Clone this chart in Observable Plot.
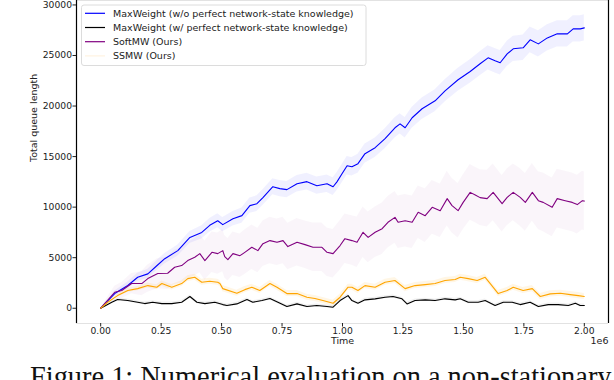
<!DOCTYPE html>
<html><head><meta charset="utf-8">
<script src="https://cdn.jsdelivr.net/npm/d3@7"></script>
<script src="https://cdn.jsdelivr.net/npm/@observablehq/plot@0.6"></script>
<style>
html,body{margin:0;padding:0;background:#fff;width:614px;height:380px;overflow:hidden;position:relative}
#chart svg{display:block}
#caption{position:absolute;left:30px;top:363px;font-family:"Liberation Serif",serif;font-size:25px;line-height:25px;white-space:nowrap;color:#111}
</style></head><body>
<div id="chart"></div>
<div id="caption">Figure 1: Numerical evaluation on a non-stationary</div>
<script>
// Time in units of 1e6; each entry: [time, mean queue length, band half-width]
const maxWeightNoKnowledge = [
[0,0,0],[0.058,1450,250],[0.112,2250,350],[0.153,3060,400],[0.195,3400,450],[0.232,4200,500],[0.265,4900,520],
[0.319,5700,550],[0.369,7000,600],[0.418,7500,650],[0.451,8200,680],[0.484,8650,700],[0.505,8270,700],
[0.547,8860,720],[0.584,9160,750],[0.617,10150,760],[0.646,10340,780],[0.671,10940,790],[0.712,12020,800],
[0.741,11830,800],[0.770,11730,800],[0.812,12320,820],[0.853,12520,830],[0.894,12120,850],[0.936,12320,870],
[0.961,12020,880],[0.977,12500,890],[0.998,13300,900],[1.019,14100,910],[1.039,14000,920],[1.064,14300,940],
[1.093,15290,950],[1.135,15880,970],[1.176,16770,990],[1.217,17850,1000],[1.238,18240,1010],[1.259,17850,1020],
[1.288,18840,1040],[1.329,19730,1060],[1.383,20520,1090],[1.424,21500,1110],[1.478,22600,1140],[1.528,23420,1160],
[1.569,24180,1180],[1.602,24770,1200],[1.631,24470,1210],[1.652,24280,1220],[1.681,25160,1240],[1.706,25660,1250],
[1.747,25760,1260],[1.776,26550,1280],[1.810,26150,1290],[1.847,26740,1300],[1.888,27140,1300],[1.930,27140,1300],
[1.954,27630,1300],[1.983,27630,1300],[2.000,27730,1300]
];
const maxWeightKnowledge = [
[0,0,0],[0.046,590,100],[0.070,860,130],[0.112,760,150],[0.153,590,150],[0.182,460,150],[0.215,590,150],
[0.253,460,150],[0.294,460,150],[0.335,590,150],[0.369,1160,160],[0.398,590,150],[0.431,460,150],[0.472,590,150],
[0.505,360,150],[0.522,270,150],[0.563,430,150],[0.605,860,150],[0.629,590,150],[0.667,760,150],[0.700,960,160],
[0.733,590,150],[0.770,170,150],[0.812,430,150],[0.853,170,150],[0.894,270,150],[0.936,170,150],[0.961,100,150],
[0.990,760,150],[1.023,1250,160],[1.039,760,150],[1.064,490,150],[1.093,830,150],[1.135,930,150],[1.176,1090,150],
[1.209,1160,160],[1.246,930,150],[1.267,430,150],[1.300,760,150],[1.342,830,150],[1.383,760,150],[1.424,930,150],
[1.466,830,150],[1.487,930,150],[1.520,590,150],[1.561,590,150],[1.590,760,150],[1.631,270,150],[1.665,590,150],
[1.702,590,150],[1.735,360,150],[1.776,590,150],[1.810,170,150],[1.851,360,150],[1.892,360,150],[1.934,270,150],
[1.963,490,150],[1.983,270,150],[2.000,270,150]
];
const softMW = [
[0,0,0],[0.058,1580,600],[0.087,1750,800],[0.128,2440,1000],[0.170,2440,1200],[0.195,2930,1350],[0.236,3430,1500],
[0.277,3460,1600],[0.306,4050,1700],[0.335,4220,1750],[0.360,4710,1800],[0.389,5040,1850],[0.410,5400,1900],
[0.431,4710,1950],[0.460,5530,2000],[0.484,5400,2050],[0.505,5700,2100],[0.513,5100,2100],[0.526,4800,2100],
[0.547,5400,2150],[0.576,5200,2150],[0.596,5530,2200],[0.625,6030,2200],[0.650,5700,2200],[0.671,6390,2250],
[0.700,6690,2300],[0.729,6520,2300],[0.754,6690,2300],[0.774,6100,2300],[0.812,6520,2350],[0.845,6290,2350],
[0.878,6030,2400],[0.915,6030,2400],[0.936,5530,2400],[0.961,5400,2400],[0.990,6200,2450],[1.010,6880,2450],
[1.039,6690,2450],[1.060,6520,2500],[1.085,7510,2500],[1.106,7010,2500],[1.135,7510,2500],[1.164,7870,2550],
[1.188,8500,2550],[1.217,8990,2550],[1.230,8500,2600],[1.259,8660,2600],[1.288,8500,2600],[1.313,9490,2600],
[1.342,9160,2650],[1.371,9980,2650],[1.404,9650,2650],[1.433,10840,2700],[1.453,10150,2700],[1.478,9650,2700],
[1.499,10470,2700],[1.528,11460,2750],[1.549,11200,2750],[1.569,10940,2750],[1.598,10840,2800],[1.623,11460,2800],
[1.660,10340,2800],[1.681,10970,2800],[1.706,11460,2800],[1.735,10970,2850],[1.756,10470,2850],[1.785,11460,2850],
[1.810,10640,2850],[1.830,10470,2900],[1.867,9980,2900],[1.888,10840,2900],[1.921,10640,2900],[1.950,10470,2900],
[1.971,10250,2900],[1.992,10640,2900],[2.000,10600,2900]
];
const ssMW = [
[0,0,0],[0.029,590,80],[0.070,1250,150],[0.112,1750,200],[0.153,1940,220],[0.195,2240,250],[0.232,2080,250],
[0.253,2440,260],[0.294,2080,270],[0.335,2440,280],[0.360,2930,290],[0.389,3060,300],[0.418,2570,300],
[0.451,2670,300],[0.484,2570,300],[0.493,2440,300],[0.505,1940,300],[0.563,1480,300],[0.596,1840,300],
[0.625,2080,300],[0.658,1750,300],[0.700,2440,300],[0.729,2080,300],[0.770,1450,300],[0.812,1450,300],
[0.853,1090,300],[0.886,960,300],[0.919,760,300],[0.961,490,300],[0.990,1090,300],[1.023,2080,300],
[1.039,2080,300],[1.064,1750,300],[1.093,2240,300],[1.135,2080,300],[1.176,2570,300],[1.217,2740,300],
[1.259,1940,300],[1.300,2240,300],[1.342,2340,300],[1.383,2440,300],[1.424,2740,300],[1.466,2840,300],
[1.487,3060,300],[1.520,2930,300],[1.557,2740,300],[1.590,3060,300],[1.611,2440,300],[1.644,1450,300],
[1.681,1750,300],[1.706,2080,300],[1.747,1750,300],[1.785,1940,300],[1.818,1160,300],[1.859,1420,300],
[1.901,1480,300],[1.942,1350,300],[1.975,1250,300],[2.000,1160,300]
];
const seriesNames = [
  "MaxWeight (w/o perfect network-state knowledge)",
  "MaxWeight (w/ perfect network-state knowledge)",
  "SoftMW (Ours)",
  "SSMW (Ours)"
];
const seriesColors = ["#0000ff", "#000000", "#800080", "#ffa500"];
const legendSwatch = ["#0000ff", "#000000", "#800080", "#fff3e0"];
const bandOpacity = [0.06, 0.06, 0.04, 0.1];
const xTicks = [0, 0.25, 0.5, 0.75, 1.0, 1.25, 1.5, 1.75, 2.0];
const yTicks = [0, 5000, 10000, 15000, 20000, 25000, 30000];
const xLabel = "Time", xExponent = "1e6", yLabel = "Total queue length";

const allSeries = [maxWeightNoKnowledge, maxWeightKnowledge, softMW, ssMW];
const font = "DejaVu Sans";
const marks = [];
allSeries.forEach((s, i) => {
  marks.push(Plot.areaY(s, {x: d => d[0], y1: d => d[1] - d[2], y2: d => d[1] + d[2],
    fill: seriesColors[i], fillOpacity: bandOpacity[i]}));
});
allSeries.forEach((s, i) => {
  marks.push(Plot.lineY(s, {x: d => d[0], y: d => d[1], stroke: seriesColors[i], strokeWidth: 1.1}));
});
marks.push(
  Plot.ruleY([-1510, 30440], {stroke: "#e2e2e2", strokeWidth: 1}),
  Plot.ruleX([-0.1, 2.1], {stroke: "#000", strokeWidth: 1.2}),
  Plot.axisX({ticks: xTicks, tickFormat: d => d.toFixed(2), tickSize: 3.5, tickPadding: 0, label: null, fontSize: 9.2, color: "#222"}),
  Plot.axisY({ticks: yTicks, tickFormat: d => String(d), tickSize: 3.5, tickPadding: 1, label: null, fontSize: 9.2, color: "#222"}),
  Plot.text([xLabel], {frameAnchor: "bottom", dy: 20, fontSize: 9.5, fill: "#222"}),
  Plot.text([xExponent], {frameAnchor: "bottom-right", textAnchor: "end", dy: 20, fontSize: 9.5, fill: "#222"}),
  Plot.text([yLabel], {frameAnchor: "left", rotate: -90, dx: -43, fontSize: 9.5, fill: "#222"})
);

const svg = Plot.plot({
  width: 614, height: 350,
  marginLeft: 76, marginRight: 6, marginTop: 0, marginBottom: 27,
  style: {fontFamily: font, fontSize: "9.2px", background: "#fff", overflow: "visible"},
  x: {domain: [-0.1, 2.1]},
  y: {domain: [-1510, 30440]},
  marks
});
document.getElementById("chart").appendChild(svg);

// Legend (upper left, framed box as in the original)
const g = d3.select(svg).append("g").attr("font-family", font).attr("font-size", 9.5)
  .attr("text-anchor", "start");
g.append("rect").attr("x", 81.5).attr("y", 5).attr("width", 284.5).attr("height", 60.5)
  .attr("rx", 2.5).attr("fill", "#fff").attr("fill-opacity", 0.85).attr("stroke", "#dcdcdc");
seriesNames.forEach((name, i) => {
  const y = 13.3 + i * 14.2;
  g.append("line").attr("x1", 85).attr("x2", 105).attr("y1", y).attr("y2", y)
    .attr("stroke", legendSwatch[i]).attr("stroke-width", 1.2);
  g.append("text").attr("x", 113).attr("y", y).attr("dy", "0.35em")
    .attr("text-anchor", "start").attr("fill", "#222").text(name);
});

// fit caption width to the original's span
const cap = document.getElementById("caption");
const w = cap.getBoundingClientRect().width;
const fs = 25 * 582 / w;
cap.style.fontSize = fs + "px";
cap.style.lineHeight = fs + "px";
cap.style.top = (368 - 0.1755 * fs) + "px";
</script>
</body></html>
